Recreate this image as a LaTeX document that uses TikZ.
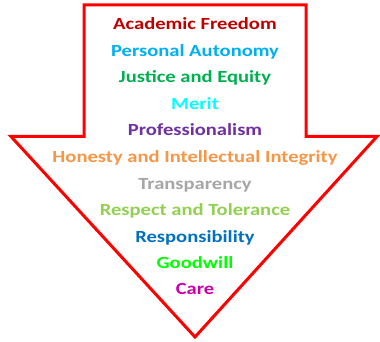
\documentclass[tikz,border=0pt]{standalone}
\usepackage{fontspec}
\setmainfont[FakeStretch=1.21]{Carlito}
\definecolor{cAF}{HTML}{C00000}
\definecolor{cPA}{HTML}{00B0F0}
\definecolor{cJE}{HTML}{00B050}
\definecolor{cME}{HTML}{00FFFF}
\definecolor{cPR}{HTML}{7030A0}
\definecolor{cHO}{HTML}{F79646}
\definecolor{cTR}{HTML}{A6A6A6}
\definecolor{cRT}{HTML}{92D050}
\definecolor{cRE}{HTML}{0070C0}
\definecolor{cGO}{HTML}{00FF00}
\definecolor{cCA}{HTML}{CC00AA}
\tikzset{
  val/.style={anchor=base, font=\fontsize{17}{20}\selectfont\bfseries, inner sep=0pt},
  arrowshape/.style={draw=red, line width=3pt, line join=miter}
}
\begin{document}
\begin{tikzpicture}[x=1pt,y=-1pt]
\useasboundingbox[fill=white] (0,0) rectangle (380,342);
\coordinate (p1) at (84,5);
\coordinate (p2) at (306,5);
\coordinate (p3) at (306,136.5);
\coordinate (p4) at (377,136.5);
\coordinate (p5) at (195,337);
\coordinate (p6) at (11,136.5);
\coordinate (p7) at (84,136.5);
\draw[arrowshape] (p1) -- (p2) -- (p3) -- (p4) -- (p5) -- (p6) -- (p7) -- cycle;
\node[val, text=cAF] (t1) at (195,30) {Academic Freedom};
\node[val, text=cPA] (t2) at (195,56.5) {Personal Autonomy};
\node[val, text=cJE] (t3) at (195,83) {Justice and Equity};
\node[val, text=cME] (t4) at (195,109.3) {Merit};
\node[val, text=cPR] (t5) at (195,135.5) {Professionalism};
\node[val, text=cHO] (t6) at (195,162) {Honesty and Intellectual Integrity};
\node[val, text=cTR] (t7) at (195,189) {Transparency};
\node[val, text=cRT] (t8) at (195,215.5) {Respect and Tolerance};
\node[val, text=cRE] (t9) at (195,242) {Responsibility};
\node[val, text=cGO] (t10) at (195,268) {Goodwill};
\node[val, text=cCA] (t11) at (195,294.5) {Care};
\end{tikzpicture}
\end{document}
